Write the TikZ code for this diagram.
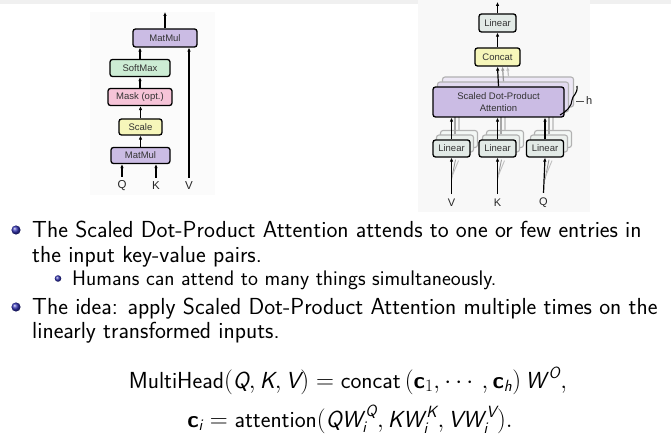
\documentclass[tikz,border=0pt]{standalone}
\usepackage{amsmath}
\usepackage{fontspec}
\newfontfamily\diafont{Liberation Sans}
\usetikzlibrary{arrows.meta}
\definecolor{mmcol}{RGB}{203,188,228}
\definecolor{smcol}{RGB}{204,236,212}
\definecolor{mkcol}{RGB}{246,196,216}
\definecolor{sccol}{RGB}{246,246,186}
\definecolor{lncol}{RGB}{226,234,230}
\definecolor{structcol}{rgb}{0.2,0.2,0.7}
\definecolor{imgbg}{RGB}{248,248,248}
\newcommand\mi[1]{\text{\slshape #1}}
\tikzset{
  box/.style={draw=black, line width=1.3pt, rounded corners=2.5pt, inner sep=0pt,
    font=\diafont\fontsize{9.5}{10}\selectfont, text=black!80},
  ghost/.style={draw=black!30, line width=1.1pt, rounded corners=2.5pt, inner sep=0pt},
  arr/.style={line width=1.2pt, -{Latex[length=4pt,width=3.6pt]}},
  garr/.style={line width=1.1pt, draw=black!35},
  lbl/.style={inner sep=0pt, font=\diafont\fontsize{11.5}{12}\selectfont, text=black!85},
  txt/.style={inner sep=0pt, anchor=base west, font=\sffamily\fontsize{23.2}{27}\selectfont},
  stxt/.style={inner sep=0pt, anchor=base west, font=\sffamily\fontsize{21.1}{25}\selectfont},
  eq/.style={inner sep=0pt, anchor=base, font=\sffamily\fontsize{23.2}{27}\selectfont},
}
\begin{document}
\begin{tikzpicture}[x=1pt,y=-1pt]
\useasboundingbox (0,0) rectangle (671,435);
\fill[black!6] (0,0) rectangle (671,4);
\fill[imgbg!60!white] (90,12) rectangle (215,195);
\fill[imgbg] (418,0) rectangle (590,212);

% ---------- left diagram ----------
\node[box, fill=mmcol, minimum width=64, minimum height=18] (mm2) at (165,38) {MatMul};
\node[box, fill=smcol, minimum width=60, minimum height=17] (sm) at (140,68) {SoftMax};
\node[box, fill=mkcol, minimum width=64, minimum height=17] (mk) at (140,97) {Mask (opt.)};
\node[box, fill=sccol, minimum width=43, minimum height=16] (sc) at (140.5,127) {Scale};
\node[box, fill=mmcol, minimum width=59, minimum height=16] (mm1) at (140.5,155.5) {MatMul};
\node[lbl] (q1) at (122,186) {Q};
\node[lbl] (k1) at (156,186) {K};
\node[lbl] (v1) at (189,186) {V};
\coordinate (out1) at (165,12);
\draw[arr] (mm2.north) -- (out1);
\draw[arr] (sm.north) -- (sm.north |- mm2.south);
\draw[arr] (mk.north) -- (sm.south);
\draw[arr] (sc.north) -- (sc.north |- mk.south);
\draw[arr] (mm1.north) -- (sc.south);
\draw[arr] ([yshift=4pt]q1.north) -- (q1.north |- mm1.south);
\draw[arr] ([yshift=4pt]k1.north) -- (k1.north |- mm1.south);
\draw[arr] ([yshift=4pt]v1.north) -- (v1.north |- mm2.south);

% ---------- right diagram ----------
% ghost copies of attention
\node[ghost, fill=mmcol!35!white, minimum width=131, minimum height=30] (attc2) at (508,92) {};
\node[ghost, fill=mmcol!55!white, minimum width=131, minimum height=30] (attc1) at (503,97) {};
% ghost copies of linear boxes
\foreach \x/\n in {451/a,497/b,545/c}{
  \node[ghost, fill=lncol!40!white, minimum width=37, minimum height=17] (lg2\n) at (\x+8,139) {};
  \node[ghost, fill=lncol!70!white, minimum width=37, minimum height=17] (lg1\n) at (\x+4,143.5) {};
  \draw[garr, draw=black!20] (lg2\n.north) -- (lg2\n.north |- attc2.south);
  \draw[garr] (lg1\n.north) -- (lg1\n.north |- attc1.south);
}
\node[box, fill=mmcol, minimum width=131, minimum height=30, align=center,
  font=\diafont\fontsize{9.5}{12}\selectfont] (att) at (498.5,102) {Scaled Dot-Product\\Attention};
\node[box, fill=lncol, minimum width=37, minimum height=17] (la) at (451.5,148.5) {Linear};
\node[box, fill=lncol, minimum width=37, minimum height=17] (lb) at (497.5,148.5) {Linear};
\node[box, fill=lncol, minimum width=37, minimum height=17] (lc) at (545,148.5) {Linear};
\node[box, fill=sccol, minimum width=45, minimum height=18] (cc) at (497.5,57) {Concat};
\node[box, fill=lncol, minimum width=37, minimum height=18] (lt) at (497.5,23) {Linear};
\node[lbl, font=\diafont\fontsize{11}{12}\selectfont] (vr) at (451.5,203) {V};
\node[lbl, font=\diafont\fontsize{11}{12}\selectfont] (kr) at (497.5,203) {K};
\node[lbl, font=\diafont\fontsize{11}{12}\selectfont] (qr) at (543.5,203) {Q};
\coordinate (out2) at (497.5,2);
\draw[arr] (lt.north) -- (out2);
\draw[arr] (cc.north) -- (lt.south);
\draw[arr] (att.north) -- (cc.south);
\draw[arr, draw=black!40] ([xshift=5pt]att.north |- attc1.north) -- ([xshift=5pt]cc.south);
\draw[arr, draw=black!25] ([xshift=10pt]att.north |- attc2.north) -- ([xshift=10pt]cc.south);
\foreach \l/\s in {la/vr,lb/kr,lc/qr}{
  \draw[arr] (\l.north) -- (\l.north |- att.south);
  \draw[line width=0.9pt, draw=black!40] ([yshift=-22pt]\l.south) -- ([xshift=4pt,yshift=-2pt]\l.south);
  \draw[line width=0.9pt, draw=black!25] ([yshift=-20pt]\l.south) -- ([xshift=7pt,yshift=-3pt]\l.south);
  \draw[arr] ([yshift=5pt]\s.north) -- (\l.south);
}
% brace h
\draw[line width=1.1pt] (577,86) .. controls (578,94) and (572,96) .. (572,100)
  .. controls (572,106) and (566,112) .. (560,115);
\draw[line width=0.6pt, black!70] (576,101) -- (584,101);
\node[lbl, font=\diafont\fontsize{11}{12}\selectfont, anchor=west] (hl) at (586,101) {h};

% ---------- text ----------
\foreach \y in {230,307}{\shade[ball color=structcol] (16,\y) circle (4.6);}
\shade[ball color=structcol] (58,278.5) circle (3.3);
\node[txt] (t1) at (32,237.5) {The Scaled Dot-Product Attention attends to one or few entries in};
\node[txt] (t2) at (32,262) {the input key-value pairs.};
\node[stxt] (t3) at (72,285) {Humans can attend to many things simultaneously.};
\node[txt] (t4) at (32,314) {The idea: apply Scaled Dot-Product Attention multiple times on the};
\node[txt] (t5) at (32,338.5) {linearly transformed inputs.};
\node[eq] (e1) at (348,388) {$\text{MultiHead}(\mi{Q},\mi{K},\mi{V})=\text{concat}\,(\text{\bfseries c}_1,\cdots,\text{\bfseries c}_{\mi{h}})\,\mi{W}^{\,\mi{O}},$};
\node[eq] (e2) at (350,427) {$\text{\bfseries c}_{\mi{i}}=\text{attention}(\mi{QW}_{\mi{i}}^{\,\mi{Q}},\mi{KW}_{\mi{i}}^{\,\mi{K}},\mi{VW}_{\mi{i}}^{\,\mi{V}}).$};
\end{tikzpicture}
\end{document}
